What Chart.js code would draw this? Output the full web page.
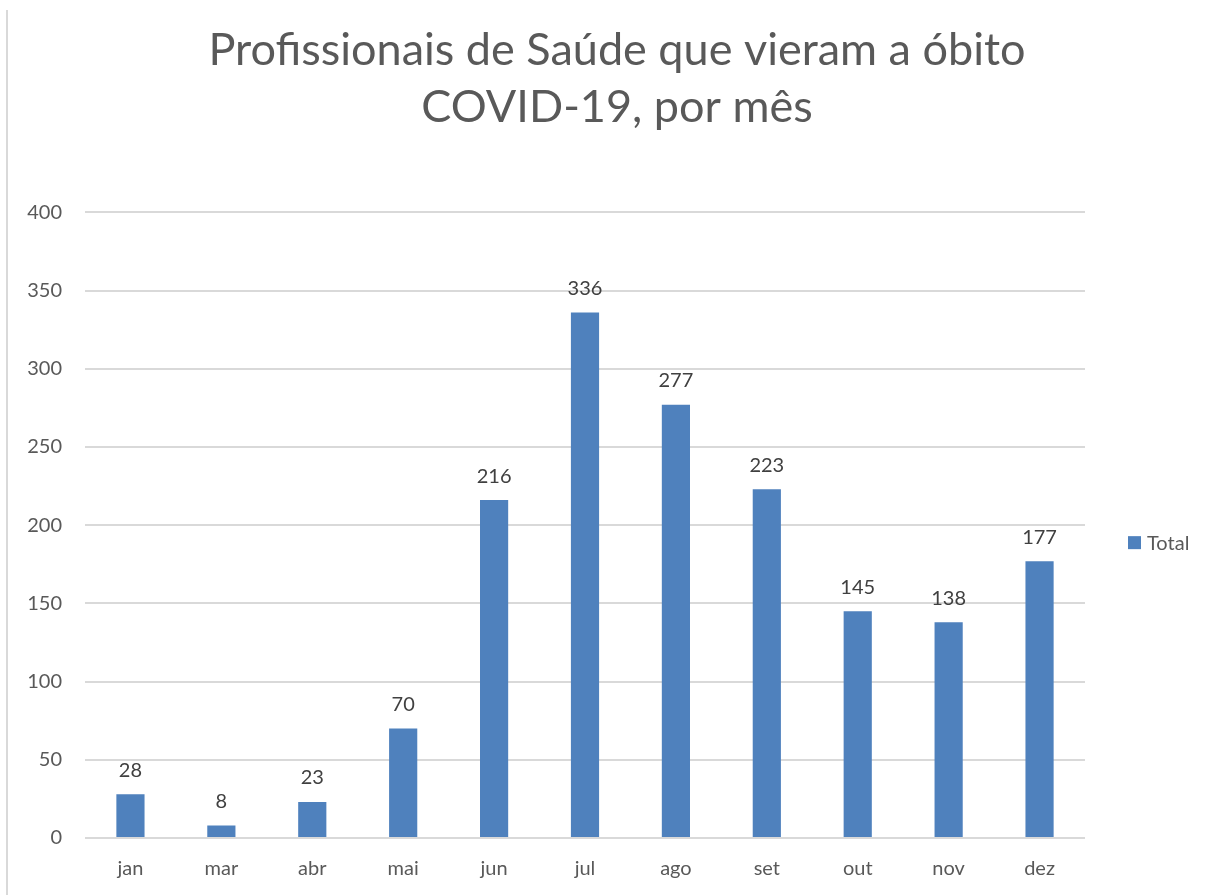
<!DOCTYPE html>
<html lang="pt-br">
<head>
<meta charset="UTF-8">
<title>Profissionais de Saúde - óbitos COVID-19</title>
<script src="https://cdn.jsdelivr.net/npm/chart.js"></script>
<style>
  html, body { margin: 0; padding: 0; background: #fff; }
  #moldura { position: relative; width: 1214px; height: 895px; }
  #borda { position: absolute; left: 6px; top: 10px; width: 2px; height: 885px; background: #d9d9d9; }
</style>
</head>
<body>
<div id="moldura">
  <div id="borda"></div>
  <canvas id="obitosChart" width="1214" height="895"></canvas>
</div>

<script>
// dados do gráfico
const meses = ['jan', 'mar', 'abr', 'mai', 'jun', 'jul', 'ago', 'set', 'out', 'nov', 'dez'];
const totalObitos = [28, 8, 23, 70, 216, 336, 277, 223, 145, 138, 177];
const ticksY = [0, 50, 100, 150, 200, 250, 300, 350, 400];
const nomeSerie = 'Total';

const fonte = 'Lato, "Open Sans", sans-serif';
const cinza = '#595959';
const azul = '#4f81bd';

// rótulos em cima das barras
const rotulos = {
  id: 'rotulos',
  afterDatasetsDraw(chart) {
    const ctx = chart.ctx;
    const meta = chart.getDatasetMeta(0);
    ctx.save();
    ctx.font = '20px ' + fonte;
    ctx.fillStyle = '#404040';
    ctx.textAlign = 'center';
    ctx.textBaseline = 'middle';
    meta.data.forEach((barra, i) => {
      ctx.fillText(totalObitos[i], barra.x, barra.y - 24);
    });
    ctx.restore();
  }
};

// legenda à direita (estilo Excel)
const legenda = {
  id: 'legenda',
  afterDraw(chart) {
    const ctx = chart.ctx;
    const area = chart.chartArea;
    const x = area.right + 43;
    const y = (area.top + area.bottom) / 2 + 18;
    ctx.save();
    ctx.fillStyle = azul;
    ctx.fillRect(x, y - 7, 13, 13);
    ctx.font = '20px ' + fonte;
    ctx.fillStyle = cinza;
    ctx.textAlign = 'left';
    ctx.textBaseline = 'middle';
    ctx.fillText(nomeSerie, x + 19, y);
    ctx.restore();
  }
};

const ctx = document.getElementById('obitosChart').getContext('2d');
new Chart(ctx, {
  type: 'bar',
  data: {
    labels: meses,
    datasets: [{
      label: nomeSerie,
      data: totalObitos,
      backgroundColor: azul,
      borderWidth: 0,
      categoryPercentage: 1,
      barPercentage: 0.31
    }]
  },
  options: {
    responsive: false,
    animation: false,
    layout: { padding: { left: 20, right: 0, top: 0, bottom: 0 } },
    plugins: {
      title: {
        display: true,
        text: ['Profissionais de Saúde que vieram a óbito', 'COVID-19, por mês'],
        color: cinza,
        font: { family: fonte, size: 45, weight: 'normal', lineHeight: 1.27 },
        padding: { top: 22, bottom: 76 }
      },
      legend: { display: false },
      tooltip: { enabled: false }
    },
    scales: {
      x: {
        grid: { display: false },
        border: { display: false },
        ticks: { color: cinza, font: { family: fonte, size: 20 }, padding: 11 },
        afterFit(scale) { scale.height = 57; }
      },
      y: {
        min: 0,
        max: 400,
        afterBuildTicks(scale) { scale.ticks = ticksY.map(v => ({ value: v })); },
        grid: { color: '#d9d9d9', lineWidth: 2, drawTicks: false },
        border: { display: false },
        ticks: { color: cinza, font: { family: fonte, size: 20 }, padding: 23 },
        afterFit(scale) { scale.width = 65; }
      },
      // espaço reservado para a legenda
      espacoLegenda: {
        type: 'linear',
        position: 'right',
        grid: { display: false },
        border: { display: false },
        ticks: { display: false },
        afterFit(scale) { scale.width = 129; }
      }
    }
  },
  plugins: [rotulos, legenda]
});
</script>
</body>
</html>
